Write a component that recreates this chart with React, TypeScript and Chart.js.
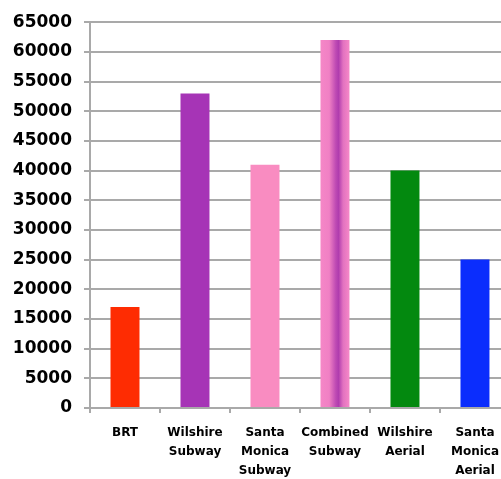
import React, { useEffect, useRef } from "react";
import { Chart, registerables } from "chart.js";

Chart.register(...registerables);

// Ridership by alternative
const categories: (string | string[])[] = [
  "BRT",
  ["Wilshire", "Subway"],
  ["Santa", "Monica", "Subway"],
  ["Combined", "Subway"],
  ["Wilshire", "Aerial"],
  ["Santa", "Monica", "Aerial"],
];
const riders: number[] = [17000, 53000, 41000, 62000, 40000, 25000];
const barColors: string[] = ["#fe2c02", "#a634b6", "#f98cc1", "#d060b8", "#03890f", "#0b2dfd"];

const yMin = 0;
const yMax = 65000;
const yStep = 5000;

const BAR_PCT = 0.414;
const GRID = "#a9a9a9";

export default function App() {
  const ref = useRef<HTMLCanvasElement | null>(null);

  useEffect(() => {
    const canvas = ref.current;
    if (!canvas) return;

    // The "Combined Subway" bar is shaded pink at the edges, purple in the middle
    const fill = (c: any) => {
      const i = c.dataIndex;
      if (i !== 3) return barColors[i];
      const chart = c.chart;
      const xs = chart.scales && chart.scales.x;
      if (!xs || !chart.ctx) return barColors[i];
      const cx = xs.getPixelForValue(i);
      const w = (xs.width / categories.length) * BAR_PCT;
      const g = chart.ctx.createLinearGradient(cx - w / 2, 0, cx + w / 2, 0);
      g.addColorStop(0, "#f587c7");
      g.addColorStop(0.3, "#f080c4");
      g.addColorStop(0.52, "#c04cb4");
      g.addColorStop(0.62, "#b03cae");
      g.addColorStop(0.78, "#e272c0");
      g.addColorStop(1, "#f688c8");
      return g;
    };

    const chart = new Chart(canvas, {
      type: "bar",
      data: {
        labels: categories,
        datasets: [
          {
            data: riders,
            backgroundColor: fill,
            borderWidth: 0,
            barPercentage: BAR_PCT,
            categoryPercentage: 1,
          },
        ],
      },
      options: {
        animation: false,
        responsive: false,
        maintainAspectRatio: false,
        layout: { padding: { top: 18, left: 0, right: 0, bottom: 0 } },
        plugins: {
          legend: { display: false },
          tooltip: { enabled: false },
          title: { display: false },
        },
        scales: {
          x: {
            grid: {
              display: true,
              drawOnChartArea: false,
              drawTicks: true,
              tickLength: 5,
              color: GRID,
              lineWidth: 2,
            },
            border: { display: true, color: GRID, width: 2 },
            ticks: {
              color: "#000",
              padding: 11,
              maxRotation: 0,
              autoSkip: false,
              font: { family: "DejaVu Sans", weight: "bold", size: 12, lineHeight: 1.55 },
            },
            afterFit: (s: any) => {
              s.height = 71;
            },
          },
          y: {
            min: yMin,
            max: yMax,
            grid: {
              color: GRID,
              lineWidth: 2,
              drawTicks: true,
              tickLength: 6,
            },
            border: { display: true, color: GRID, width: 2 },
            ticks: {
              stepSize: yStep,
              color: "#000",
              padding: 12,
              font: { family: "DejaVu Sans", weight: "bold", size: 17 },
              callback: (v: any) => String(v),
            },
            afterFit: (s: any) => {
              s.width = 90;
            },
          },
        },
      },
    });

    return () => chart.destroy();
  }, []);

  return (
    <div
      style={{
        position: "fixed",
        left: 0,
        top: 0,
        width: 501,
        height: 479,
        overflow: "hidden",
        background: "#fff",
      }}
    >
      <canvas ref={ref} width={510} height={479} style={{ display: "block" }} />
    </div>
  );
}
